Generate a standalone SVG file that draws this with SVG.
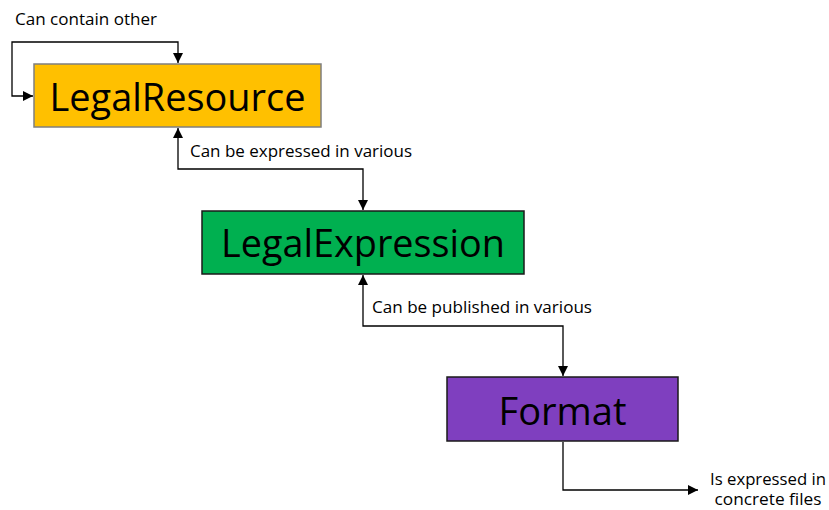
<svg xmlns="http://www.w3.org/2000/svg" width="829" height="510" viewBox="0 0 829 510">
<defs>
<marker id="arr" viewBox="0 0 10 10" refX="10" refY="5" markerWidth="10" markerHeight="10" markerUnits="userSpaceOnUse" orient="auto-start-reverse">
<path d="M0,0 L10,5 L0,10 z" fill="#000"/>
</marker>
<style>
.lbl{font-family:"Open Sans","Liberation Sans",sans-serif;font-size:16px;fill:#000}
.big{font-family:"Open Sans","Liberation Sans",sans-serif;font-size:39px;fill:#000;text-anchor:middle}
.conn{fill:none;stroke:#000;stroke-width:1.3;marker-start:url(#arr);marker-end:url(#arr)}
.one{fill:none;stroke:#000;stroke-width:1.3;marker-end:url(#arr)}
</style>
</defs>
<rect width="829" height="510" fill="#fff"/>
<g id="connectors">
<path class="conn" d="M178,63 V42 H12 V96 H33"/>
<path class="conn" d="M178,128 V169 H363 V210"/>
<path class="conn" d="M363,275 V326 H563 V376"/>
<path class="one" d="M563,442 V490 H698"/>
<text class="lbl" x="15" y="25" textLength="142" lengthAdjust="spacingAndGlyphs">Can contain other</text>
<text class="lbl" x="190" y="157" textLength="222" lengthAdjust="spacingAndGlyphs">Can be expressed in various</text>
<text class="lbl" x="372" y="313" textLength="220" lengthAdjust="spacingAndGlyphs">Can be published in various</text>
<text class="lbl" x="768" y="485" text-anchor="middle" textLength="116" lengthAdjust="spacingAndGlyphs">Is expressed in</text>
<text class="lbl" x="768" y="505" text-anchor="middle" textLength="107" lengthAdjust="spacingAndGlyphs">concrete files</text>
</g>
<g id="LegalResource">
<rect x="34" y="64" width="287" height="63" fill="#FFC000" stroke="#7F7F7F" stroke-width="1.5"/>
<text class="big" x="177.5" y="111" textLength="256" lengthAdjust="spacingAndGlyphs">LegalResource</text>
</g>
<g id="LegalExpression">
<rect x="202" y="211" width="322" height="63" fill="#00B050" stroke="#1a1a1a" stroke-width="1.5"/>
<text class="big" x="363" y="257" textLength="284" lengthAdjust="spacingAndGlyphs">LegalExpression</text>
</g>
<g id="Format">
<rect x="447" y="377" width="231" height="64" fill="#7F3FBF" stroke="#1a1a1a" stroke-width="1.5"/>
<text class="big" x="562.5" y="425" textLength="128" lengthAdjust="spacingAndGlyphs">Format</text>
</g>
</svg>
